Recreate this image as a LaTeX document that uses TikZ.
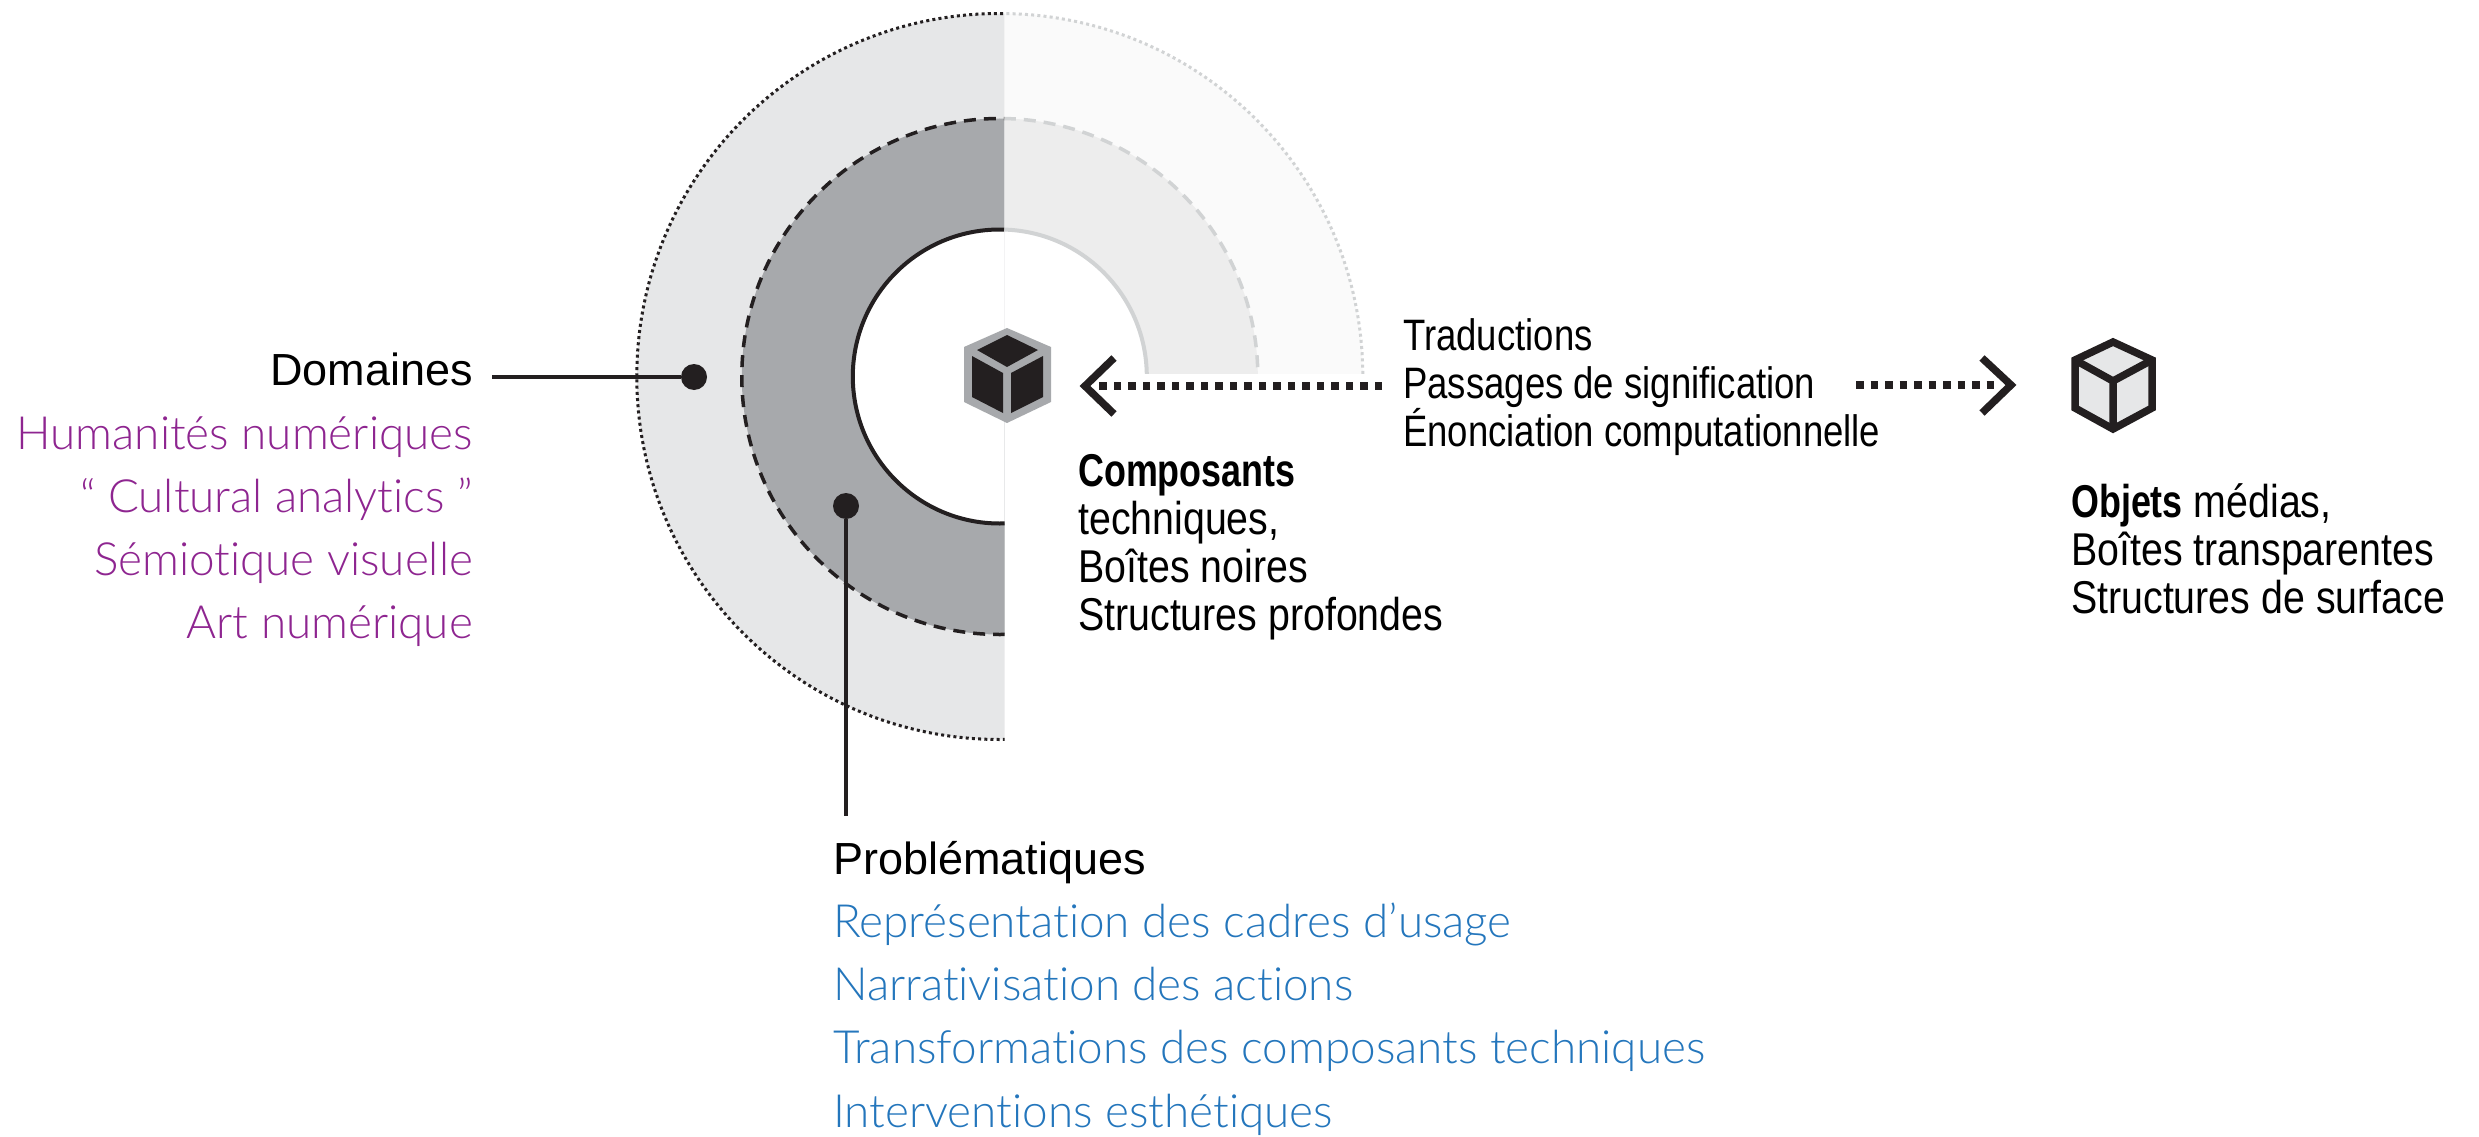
\documentclass[tikz,border=0pt]{standalone}
\usepackage{fontspec}
\setmainfont{Liberation Sans}
\newfontfamily\lightf[Ligatures=NoCommon]{Lato Light}
\newfontfamily\regf{Liberation Sans}
\newfontfamily\condf[FakeStretch=0.855,BoldFeatures={FakeStretch=0.78}]{Liberation Sans}
\newfontfamily\condg[FakeStretch=0.83]{Liberation Sans}
\definecolor{ink}{HTML}{231F20}
\definecolor{plum}{HTML}{8E2590}
\definecolor{azure}{HTML}{2476BC}
\definecolor{ringA}{HTML}{E6E7E8}
\definecolor{ringB}{HTML}{A7A9AC}
\definecolor{ringC}{HTML}{FAFAFA}
\definecolor{ringD}{HTML}{EDEDED}
\definecolor{ghost}{HTML}{D1D3D4}
\tikzset{
  x=1pt,y=-1pt,
  lighttext/.style={inner sep=0pt,font=\lightf\fontsize{45.8}{63.2}\selectfont},
  condtext/.style={inner sep=0pt,text=black,align=left,anchor=north west,font=\condf\fontsize{46}{48.2}\selectfont},
  transtext/.style={inner sep=0pt,text=black,align=left,anchor=north west,font=\condg\fontsize{44}{48.2}\selectfont},
  outerline/.style={line width=3pt,dash pattern=on 3pt off 3.2pt},
  midline/.style={line width=3.5pt,dash pattern=on 12pt off 8pt},
  dotarrow/.style={ink,line width=7.5pt,dash pattern=on 7.5pt off 7pt},
  chevron/.style={ink,line width=7.5pt,miter limit=10},
  leader/.style={ink,line width=3.5pt},
  dotnode/.style={circle,fill=ink,minimum size=26pt,inner sep=0pt}
}
\begin{document}
\begin{tikzpicture}
\useasboundingbox (0,0) rectangle (2479,1137);
\coordinate (c) at (999.8,376.5);
% left half
\begin{scope}
\clip (0,0) rectangle (1004.5,1137);
\fill[ringA] (c) circle[radius=363];
\fill[ringB] (c) circle[radius=258];
\fill[white] (c) circle[radius=147];
\draw[ink,outerline] (c) circle[radius=363];
\draw[ink,midline] (c) circle[radius=258];
\draw[ink,line width=4pt] (c) circle[radius=147];
\end{scope}
% right half
\begin{scope}
\clip (1004.5,0) rectangle (1500,373.5);
\fill[ringC] (c) circle[radius=363];
\fill[ringD] (c) circle[radius=258];
\fill[white] (c) circle[radius=147];
\draw[ghost,outerline] (c) circle[radius=363];
\draw[ghost,midline] (c) circle[radius=258];
\draw[ghost,line width=4pt] (c) circle[radius=147];
\end{scope}
% dark cube
\fill[ringB] (1007,328)--(1051,347)--(1051,402)--(1007,423)--(964,402)--(964,347)--cycle;
\fill[ink] (1007,335)--(1038,350)--(1007,367)--(977,350)--cycle;
\fill[ink] (972,356)--(1003,373)--(1003,413)--(972,397)--cycle;
\fill[ink] (1043,356)--(1011,373)--(1011,413)--(1043,397)--cycle;
% light cube
\draw[ink,fill=ringA,line width=7.5pt,miter limit=10] (2113,342)--(2152,360)--(2152,408)--(2113,429)--(2075,408)--(2075,360)--cycle;
\draw[ink,line width=7.5pt] (2075,360)--(2113,381)--(2152,360) (2113,381)--(2113,429);
% arrows
\coordinate (lstart) at (1382,386);
\coordinate (ltip) at (1085,386);
\coordinate (rstart) at (1856,385);
\coordinate (rtip) at (2011,385);
\draw[dotarrow] (lstart) -- (1097,386);
\draw[chevron] (1114,358) -- (ltip) -- (1114,414);
\draw[dotarrow] (rstart) -- (1998,385);
\draw[chevron] (1982,358) -- (rtip) -- (1982,413);
% leaders
\node[dotnode] (dotD) at (694,377) {};
\node[dotnode] (dotP) at (846,506) {};
\coordinate (endD) at (492,377);
\coordinate (endP) at (846,816);
\draw[leader] (endD) -- (dotD);
\draw[leader] (dotP) -- (endP);
% texts
\node[lighttext,anchor=north east,align=right,text=plum] (domaines) at (473,353) {{\regf\fontsize{45}{63.2}\selectfont\color{black}Domaines}\\Humanités numériques\\“ Cultural analytics ”\\Sémiotique visuelle\\Art numérique};
\node[lighttext,anchor=north west,align=left,text=azure] (prob) at (833,841) {{\regf\fontsize{45}{63.2}\selectfont\color{black}Problématiques}\\Représentation des cadres d’usage\\Narrativisation des actions\\Transformations des composants techniques\\Interventions esthétiques};
\node[transtext] (trad) at (1403,318) {Traductions\\Passages de signification\\Énonciation computationnelle};
\node[condtext] (comp) at (1078,454) {\textbf{Composants}\\techniques,\\Boîtes noires\\Structures profondes};
\node[condtext] (obj) at (2071,483) {\textbf{Objets} médias,\\Boîtes transparentes\\Structures de surface};
\end{tikzpicture}
\end{document}
